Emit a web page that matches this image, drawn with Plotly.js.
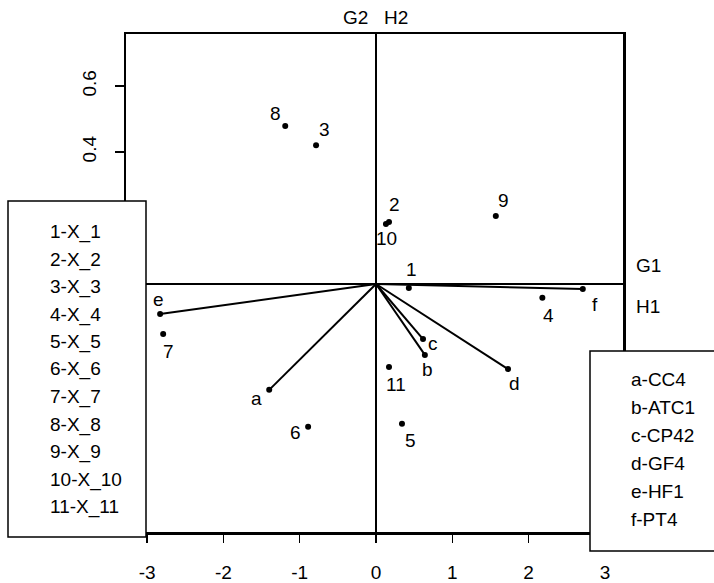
<!DOCTYPE html>
<html>
<head>
<meta charset="utf-8">
<script src="https://cdn.plot.ly/plotly-3.0.1.min.js"></script>
<style>html,body{margin:0;padding:0;background:#fff;}#chart{width:714px;height:583px;}</style>
</head>
<body>
<div id="chart"></div>
<script>
// ---- data ----
const pointLabels = ["1","2","3","4","5","6","7","8","9","10","11"];
const pointX = [0.43, 0.17, -0.786, 2.18, 0.34, -0.89, -2.79, -1.19, 1.57, 0.13, 0.17];
const pointY = [-0.012, 0.188, 0.421, -0.042, -0.424, -0.433, -0.152, 0.479, 0.206, 0.182, -0.252];

const varLabels = ["a","b","c","d","e","f"];
const varX = [-1.40, 0.64, 0.616, 1.73, -2.83, 2.71];
const varY = [-0.321, -0.215, -0.167, -0.258, -0.091, -0.015];

const pointLegend = ["1-X_1","2-X_2","3-X_3","4-X_4","5-X_5","6-X_6","7-X_7","8-X_8","9-X_9","10-X_10","11-X_11"];
const varLegend = ["a-CC4","b-ATC1","c-CP42","d-GF4","e-HF1","f-PT4"];

const xTickVals = [-3,-2,-1,0,1,2,3];
const xTickText = ["-3","-2","-1","0","1","2","3"];
const yTickVals = [-0.6,-0.4,-0.2,0,0.2,0.4,0.6];
const yTickText = ["-0.6","-0.4","-0.2","0","0.2","0.4","0.6"];

// ---- styling / placement (pixel offsets for labels) ----
const pointOff = [[3,-18],[5,-17],[8,-16],[6,18],[9,17],[-13,6],[5,17],[-10,-13],[8,-16],[1,15],[7,17]];
const varOff = [[-13,9],[3,15],[10,4],[6,14],[-2,-15],[12,16]];

const FONT = "Liberation Sans, Arial, Helvetica, sans-serif";
const L=126, R=91, T=34, B=51, W=714, H=583;
const PW = W-L-R, PH = H-T-B;
const px = x => (x-L)/PW;
const py = y => (H-B-y)/PH;

// arrow segments built from arrays
const segX = [], segY = [];
varX.forEach((v,i)=>{ segX.push(0, v, null); segY.push(0, varY[i], null); });

const traces = [
  {x: segX, y: segY, mode: "lines", line: {color: "#000", width: 2}, hoverinfo: "skip", cliponaxis: false},
  {x: varX, y: varY, mode: "markers", marker: {color: "#000", size: 6}, cliponaxis: false},
  {x: pointX, y: pointY, mode: "markers", marker: {color: "#000", size: 6}, cliponaxis: false}
];

const annotations = [];
pointLabels.forEach((t,i)=>annotations.push({
  x: pointX[i], y: pointY[i], xref: "x", yref: "y", text: t, showarrow: false,
  xshift: pointOff[i][0], yshift: -pointOff[i][1], font: {family: FONT, size: 19, color: "#000"}
}));
varLabels.forEach((t,i)=>annotations.push({
  x: varX[i], y: varY[i], xref: "x", yref: "y", text: t, showarrow: false,
  xshift: varOff[i][0], yshift: -varOff[i][1], font: {family: FONT, size: 19, color: "#000"}
}));
// axis names
[["G2",355,17,"center"],["H2",396,17,"center"],["G1",634,265,"left"],["H1",634,307,"left"]].forEach(a=>annotations.push({
  x: px(a[1]), y: py(a[2]), xref: "paper", yref: "paper", text: a[0], showarrow: false,
  xanchor: a[3], yanchor: "middle", font: {family: FONT, size: 19, color: "#000"}
}));
// legend boxes text
pointLegend.forEach((t,i)=>annotations.push({
  x: px(48), y: py(232 + i*27.5), xref: "paper", yref: "paper", text: t, showarrow: false,
  xanchor: "left", yanchor: "middle", font: {family: FONT, size: 19, color: "#000"}
}));
varLegend.forEach((t,i)=>annotations.push({
  x: px(629), y: py(379 + i*28.1), xref: "paper", yref: "paper", text: t, showarrow: false,
  xanchor: "left", yanchor: "middle", font: {family: FONT, size: 19, color: "#000"}
}));

const shapes = [
  {type: "rect", xref: "paper", yref: "paper", x0: px(8), x1: px(146), y0: py(537), y1: py(201),
   fillcolor: "#fff", line: {color: "#000", width: 1.5}, layer: "above"},
  {type: "rect", xref: "paper", yref: "paper", x0: px(590), x1: px(730), y0: py(551), y1: py(351),
   fillcolor: "#fff", line: {color: "#000", width: 1.5}, layer: "above"}
];

const layout = {
  width: W, height: H,
  margin: {l: L, r: R, t: T, b: B, pad: 0},
  paper_bgcolor: "#fff", plot_bgcolor: "#fff",
  showlegend: false,
  font: {family: FONT, size: 18, color: "#000"},
  xaxis: {
    range: [-3.277, 3.237], tickvals: xTickVals, ticktext: xTickText,
    showgrid: false, zeroline: true, zerolinecolor: "#000", zerolinewidth: 1.5,
    showline: true, mirror: true, linecolor: "#000", linewidth: 2.5,
    ticks: "outside", ticklen: 8, tickwidth: 1.5, tickcolor: "#000",
    ticklabelstandoff: 14, tickfont: {family: FONT, size: 19, color: "#000"}
  },
  yaxis: {
    range: [-0.752, 0.758], tickvals: yTickVals, ticktext: yTickText, tickangle: -90,
    showgrid: false, zeroline: true, zerolinecolor: "#000", zerolinewidth: 1.5,
    showline: true, mirror: true, linecolor: "#000", linewidth: 2.5,
    ticks: "outside", ticklen: 9, tickwidth: 1.5, tickcolor: "#000",
    ticklabelstandoff: 11, tickfont: {family: FONT, size: 19, color: "#000"}
  },
  shapes: shapes,
  annotations: annotations
};

Plotly.newPlot("chart", traces, layout, {displayModeBar: false, staticPlot: true});
</script>
</body>
</html>
